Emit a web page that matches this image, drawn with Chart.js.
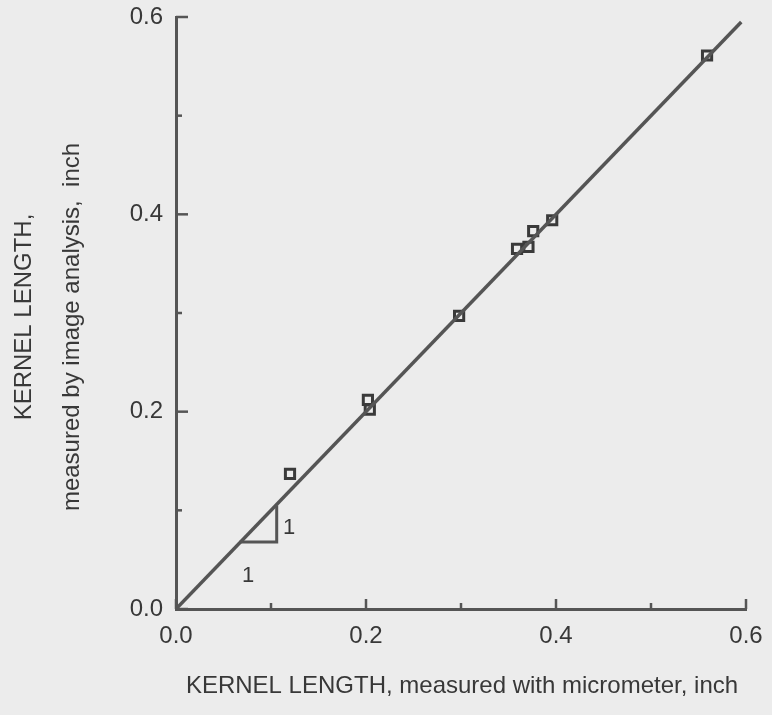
<!DOCTYPE html>
<html>
<head>
<meta charset="utf-8">
<script src="https://cdn.jsdelivr.net/npm/chart.js@4/dist/chart.umd.min.js"></script>
<style>
  html, body { margin: 0; padding: 0; background: #ececec; }
  #wrap { width: 772px; height: 715px; }
</style>
</head>
<body>
<div id="wrap"><canvas id="c" width="772" height="715"></canvas></div>
<script>
// ---- data ----
const micrometer    = [0.120, 0.202, 0.204, 0.298, 0.359, 0.371, 0.376, 0.396, 0.559];
const imageAnalysis = [0.137, 0.212, 0.202, 0.297, 0.365, 0.367, 0.383, 0.394, 0.561];
const fitLineX = [0, 0.595];
const fitLineY = [0, 0.595];
const slopeX = [0.067, 0.106, 0.106];
const slopeY = [0.068, 0.068, 0.105];
const slopeLabelText = ['1', '1'];
const slopeLabelX = [0.119, 0.076];
const slopeLabelY = [0.082, 0.034];
const majorTicks = [0, 0.2, 0.4, 0.6];
const minorTicks = [0.1, 0.3, 0.5];
const xTitle = 'KERNEL LENGTH, measured with micrometer, inch';
const yTitleLines = ['KERNEL LENGTH,', 'measured by image analysis,  inch'];

const FONT = '"Liberation Sans", Arial, Helvetica, sans-serif';
const INK = '#555555';
const TEXT = '#383838';

const decorPlugin = {
  id: 'decor',
  afterDraw(chart) {
    const ctx = chart.ctx;
    const xs = chart.scales.x, ys = chart.scales.y;
    const a = chart.chartArea;
    ctx.save();
    ctx.strokeStyle = INK;
    ctx.lineWidth = 2.5;
    ctx.lineCap = 'butt';
    const seg = (x1, y1, x2, y2) => { ctx.beginPath(); ctx.moveTo(x1, y1); ctx.lineTo(x2, y2); ctx.stroke(); };
    majorTicks.forEach(v => {
      const px = xs.getPixelForValue(v);
      seg(px, a.bottom, px, a.bottom - 10);
      const py = ys.getPixelForValue(v);
      seg(a.left, py, a.left + 12, py);
    });
    minorTicks.forEach(v => {
      const px = xs.getPixelForValue(v);
      seg(px, a.bottom, px, a.bottom - 6);
      const py = ys.getPixelForValue(v);
      seg(a.left, py, a.left + 6, py);
    });
    // slope labels
    ctx.fillStyle = TEXT;
    ctx.font = '22px ' + FONT;
    ctx.textAlign = 'center';
    ctx.textBaseline = 'middle';
    slopeLabelText.forEach((t, i) => {
      ctx.fillText(t, xs.getPixelForValue(slopeLabelX[i]), ys.getPixelForValue(slopeLabelY[i]));
    });
    // axis titles
    ctx.font = '24px ' + FONT;
    const cx = (a.left + a.right) / 2;
    const cy = (a.top + a.bottom) / 2;
    ctx.fillText(xTitle, cx + 1, 686);
    ctx.save();
    ctx.translate(24, cy + 4);
    ctx.rotate(-Math.PI / 2);
    ctx.fillText(yTitleLines[0], 0, 0);
    ctx.restore();
    ctx.save();
    ctx.translate(72, cy + 14);
    ctx.rotate(-Math.PI / 2);
    ctx.fillText(yTitleLines[1], 0, 0);
    ctx.restore();
    ctx.restore();
  }
};

const tickCfg = {
  color: TEXT,
  font: { family: FONT, size: 24 },
  callback: v => Number(v).toFixed(1)
};

new Chart(document.getElementById('c'), {
  type: 'scatter',
  data: {
    datasets: [
      {
        type: 'line',
        data: fitLineX.map((x, i) => ({ x, y: fitLineY[i] })),
        borderColor: INK,
        borderWidth: 3.5,
        pointRadius: 0,
        fill: false
      },
      {
        type: 'line',
        data: slopeX.map((x, i) => ({ x, y: slopeY[i] })),
        borderColor: INK,
        borderWidth: 3,
        pointRadius: 0,
        fill: false
      },
      {
        data: micrometer.map((x, i) => ({ x, y: imageAnalysis[i] })),
        pointStyle: 'rect',
        pointRadius: 6.5,
        borderWidth: 3,
        borderColor: '#3a3a3a',
        backgroundColor: 'rgba(0,0,0,0)'
      }
    ]
  },
  options: {
    responsive: false,
    animation: false,
    devicePixelRatio: 1,
    layout: { padding: { left: 0, top: 17, right: 26, bottom: 0 } },
    plugins: { legend: { display: false }, tooltip: { enabled: false } },
    scales: {
      x: {
        type: 'linear',
        min: 0, max: 0.6,
        afterBuildTicks: s => { s.ticks = majorTicks.map(v => ({ value: v })); },
        afterFit: s => { s.height = 106; s.paddingLeft = 0; s.paddingRight = 0; },
        grid: { display: false, drawTicks: false },
        border: { display: true, color: INK, width: 3 },
        ticks: Object.assign({ padding: 13 }, tickCfg)
      },
      y: {
        type: 'linear',
        min: 0, max: 0.6,
        afterBuildTicks: s => { s.ticks = majorTicks.map(v => ({ value: v })); },
        afterFit: s => { s.width = 176; s.paddingTop = 0; s.paddingBottom = 0; },
        grid: { display: false, drawTicks: false },
        border: { display: true, color: INK, width: 3 },
        ticks: Object.assign({ padding: 13 }, tickCfg)
      }
    }
  },
  plugins: [decorPlugin]
});
</script>
</body>
</html>
